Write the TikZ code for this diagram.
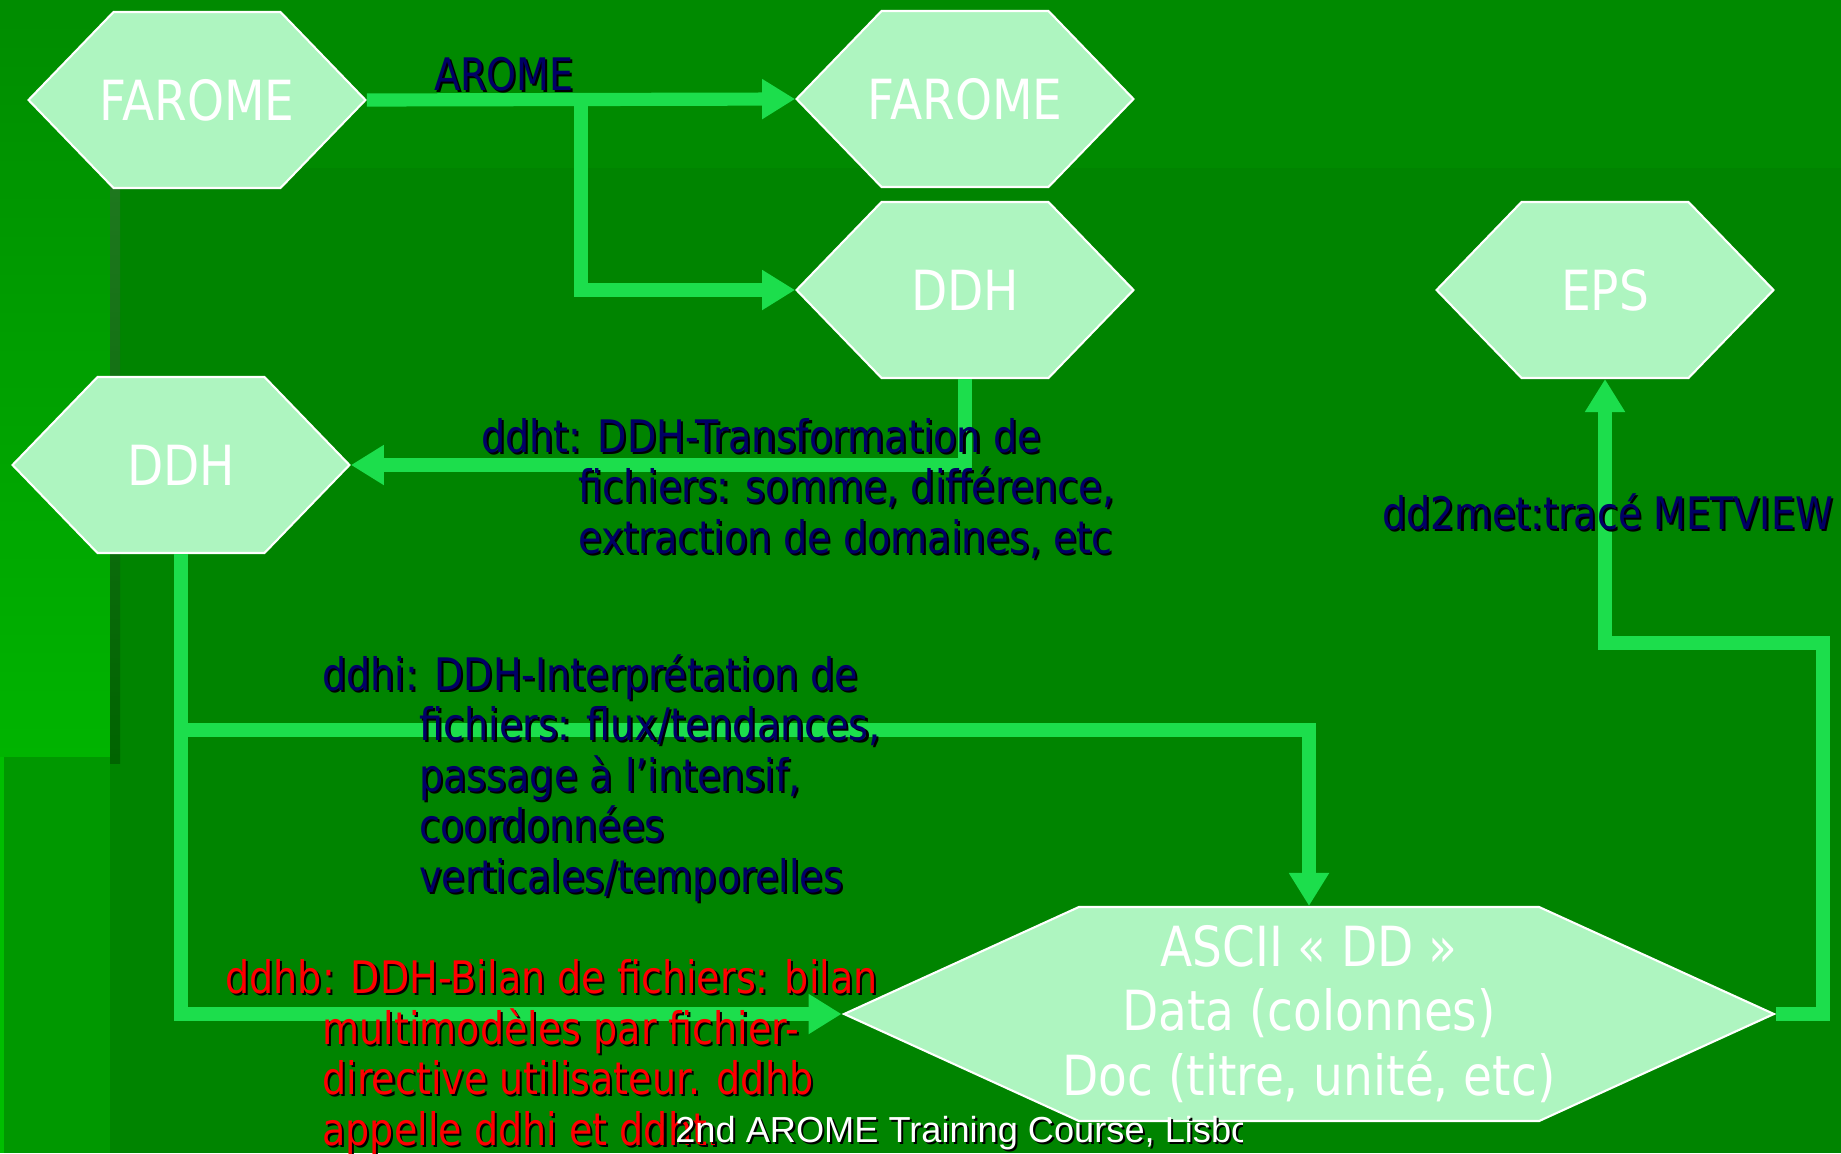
\documentclass[tikz,border=0pt]{standalone}
\usepackage{fontspec}
\setmainfont[FakeStretch=0.85]{DejaVu Sans}
\newfontfamily\footfont{Liberation Sans}
\usetikzlibrary{shapes.symbols,arrows.meta}

\definecolor{slidegreen}{RGB}{0,132,0}
\definecolor{bandgreen}{RGB}{0,138,0}
\definecolor{striptop}{RGB}{0,140,0}
\definecolor{stripbottom}{RGB}{0,180,0}
\definecolor{lowgreen}{RGB}{0,152,0}
\definecolor{edgegreen}{RGB}{0,190,0}
\definecolor{bartop}{RGB}{30,120,30}
\definecolor{barbottom}{RGB}{0,100,0}
\definecolor{hexfill}{RGB}{174,245,192}
\definecolor{flowgreen}{RGB}{28,222,76}
\definecolor{navytext}{RGB}{0,0,102}
\definecolor{redtext}{RGB}{255,0,0}

\newcommand{\shd}[1]{\makebox[0pt][l]{\hspace{1.2pt}\raisebox{-1.2pt}{\color{black}#1}}#1}
\newcommand{\ind}{\hspace*{1.94cm}}
\newcommand{\hl}[1]{\makebox[0pt]{#1}}

\tikzset{
  hexa/.style={signal, signal to=east and west, signal pointer angle=92,
    fill=hexfill, draw=white, line width=1.2pt, text=white, inner sep=0pt,
    minimum width=6.74cm, minimum height=3.52cm, font=\fontsize{31.5}{36}\selectfont},
  widehexa/.style={signal pointer angle=49, minimum width=18.6cm,
    minimum height=4.28cm, align=center, font=\fontsize{31.5}{36.5}\selectfont},
  flow/.style={draw=flowgreen, line width=7.5pt,
    -{Triangle[length=0.66cm,width=0.76cm]}},
  note/.style={text=navytext, anchor=base west, align=left, inner sep=0pt,
    font=\fontsize{25.5}{28.7}\selectfont},
  foot/.style={text=white, anchor=base west, inner sep=0pt,
    font=\footfont\fontsize{20.6}{24}\selectfont}
}

\begin{document}
\begin{tikzpicture}[x=0.02cm,y=-0.02cm]
  % slide background
  \useasboundingbox (0,0) rectangle (1841,1153);
  \fill[slidegreen] (0,0) rectangle (1841,1153);
  \fill[bandgreen] (0,0) rectangle (1841,168);
  \shade[top color=striptop,bottom color=stripbottom] (0,0) rectangle (110,757);
  \fill[lowgreen] (0,757) rectangle (110,1153);
  \fill[edgegreen] (0,757) rectangle (4,1153);
  \shade[top color=bartop,bottom color=barbottom] (110,187) rectangle (120,763);

  \node[hexa] (far1) at (197,100) {\hl{FAROME}};
  \node[hexa] (far2) at (965,99) {\hl{FAROME}};
  \node[hexa] (ddh1) at (965,290) {\hl{DDH}};
  \node[hexa] (eps) at (1605,290) {\hl{EPS}};
  \node[hexa] (ddh2) at (181,465) {\hl{DDH}};
  \node[hexa, widehexa] (ascii) at (1309,1014)
    {\hl{ASCII « DD »}\\\hl{Data (colonnes)}\\\hl{Doc (titre, unité, etc)}};

  \coordinate (split) at (581,100);
  \coordinate (fork) at (181,730);
  \coordinate (bend) at (1823,643);

  \draw[flow] (far1.east) -- (far2.west);
  \draw[flow] (split) |- (ddh1.west);
  \draw[flow] (ddh1.south) |- (ddh2.east);
  \draw[flow] (ddh2.south) |- (ascii.west);
  \draw[flow] (fork) -| (ascii.north);
  \draw[flow] (ascii.east) -| (bend) -| (eps.south);

  \node[note] (arome) at (434,90) {\shd{AROME}};
  \node[note] (ddht) at (481,553) {\shd{ddht: DDH-Transformation de}\\
    \ind\shd{fichiers: somme, différence,}\\
    \ind\shd{extraction de domaines, etc}};
  \node[note] (dd2met) at (1382,529) {\shd{dd2met:tracé METVIEW}};
  \node[note] (ddhi) at (322,892) {\shd{ddhi: DDH-Interprétation de}\\
    \ind\shd{fichiers: flux/tendances,}\\
    \ind\shd{passage à l’intensif,}\\
    \ind\shd{coordonnées}\\
    \ind\shd{verticales/temporelles}};
  \node[note, text=redtext] (ddhb) at (225,1145) {\shd{ddhb: DDH-Bilan de fichiers: bilan}\\
    \ind\shd{multimodèles par fichier-}\\
    \ind\shd{directive utilisateur. ddhb}\\
    \ind\shd{appelle ddhi et ddht.}};

  \begin{scope}
    \clip (600,1090) rectangle (1242,1153);
    \node[foot] (course) at (675,1142) {\shd{2nd AROME Training Course, Lisbo}};
  \end{scope}
\end{tikzpicture}
\end{document}
